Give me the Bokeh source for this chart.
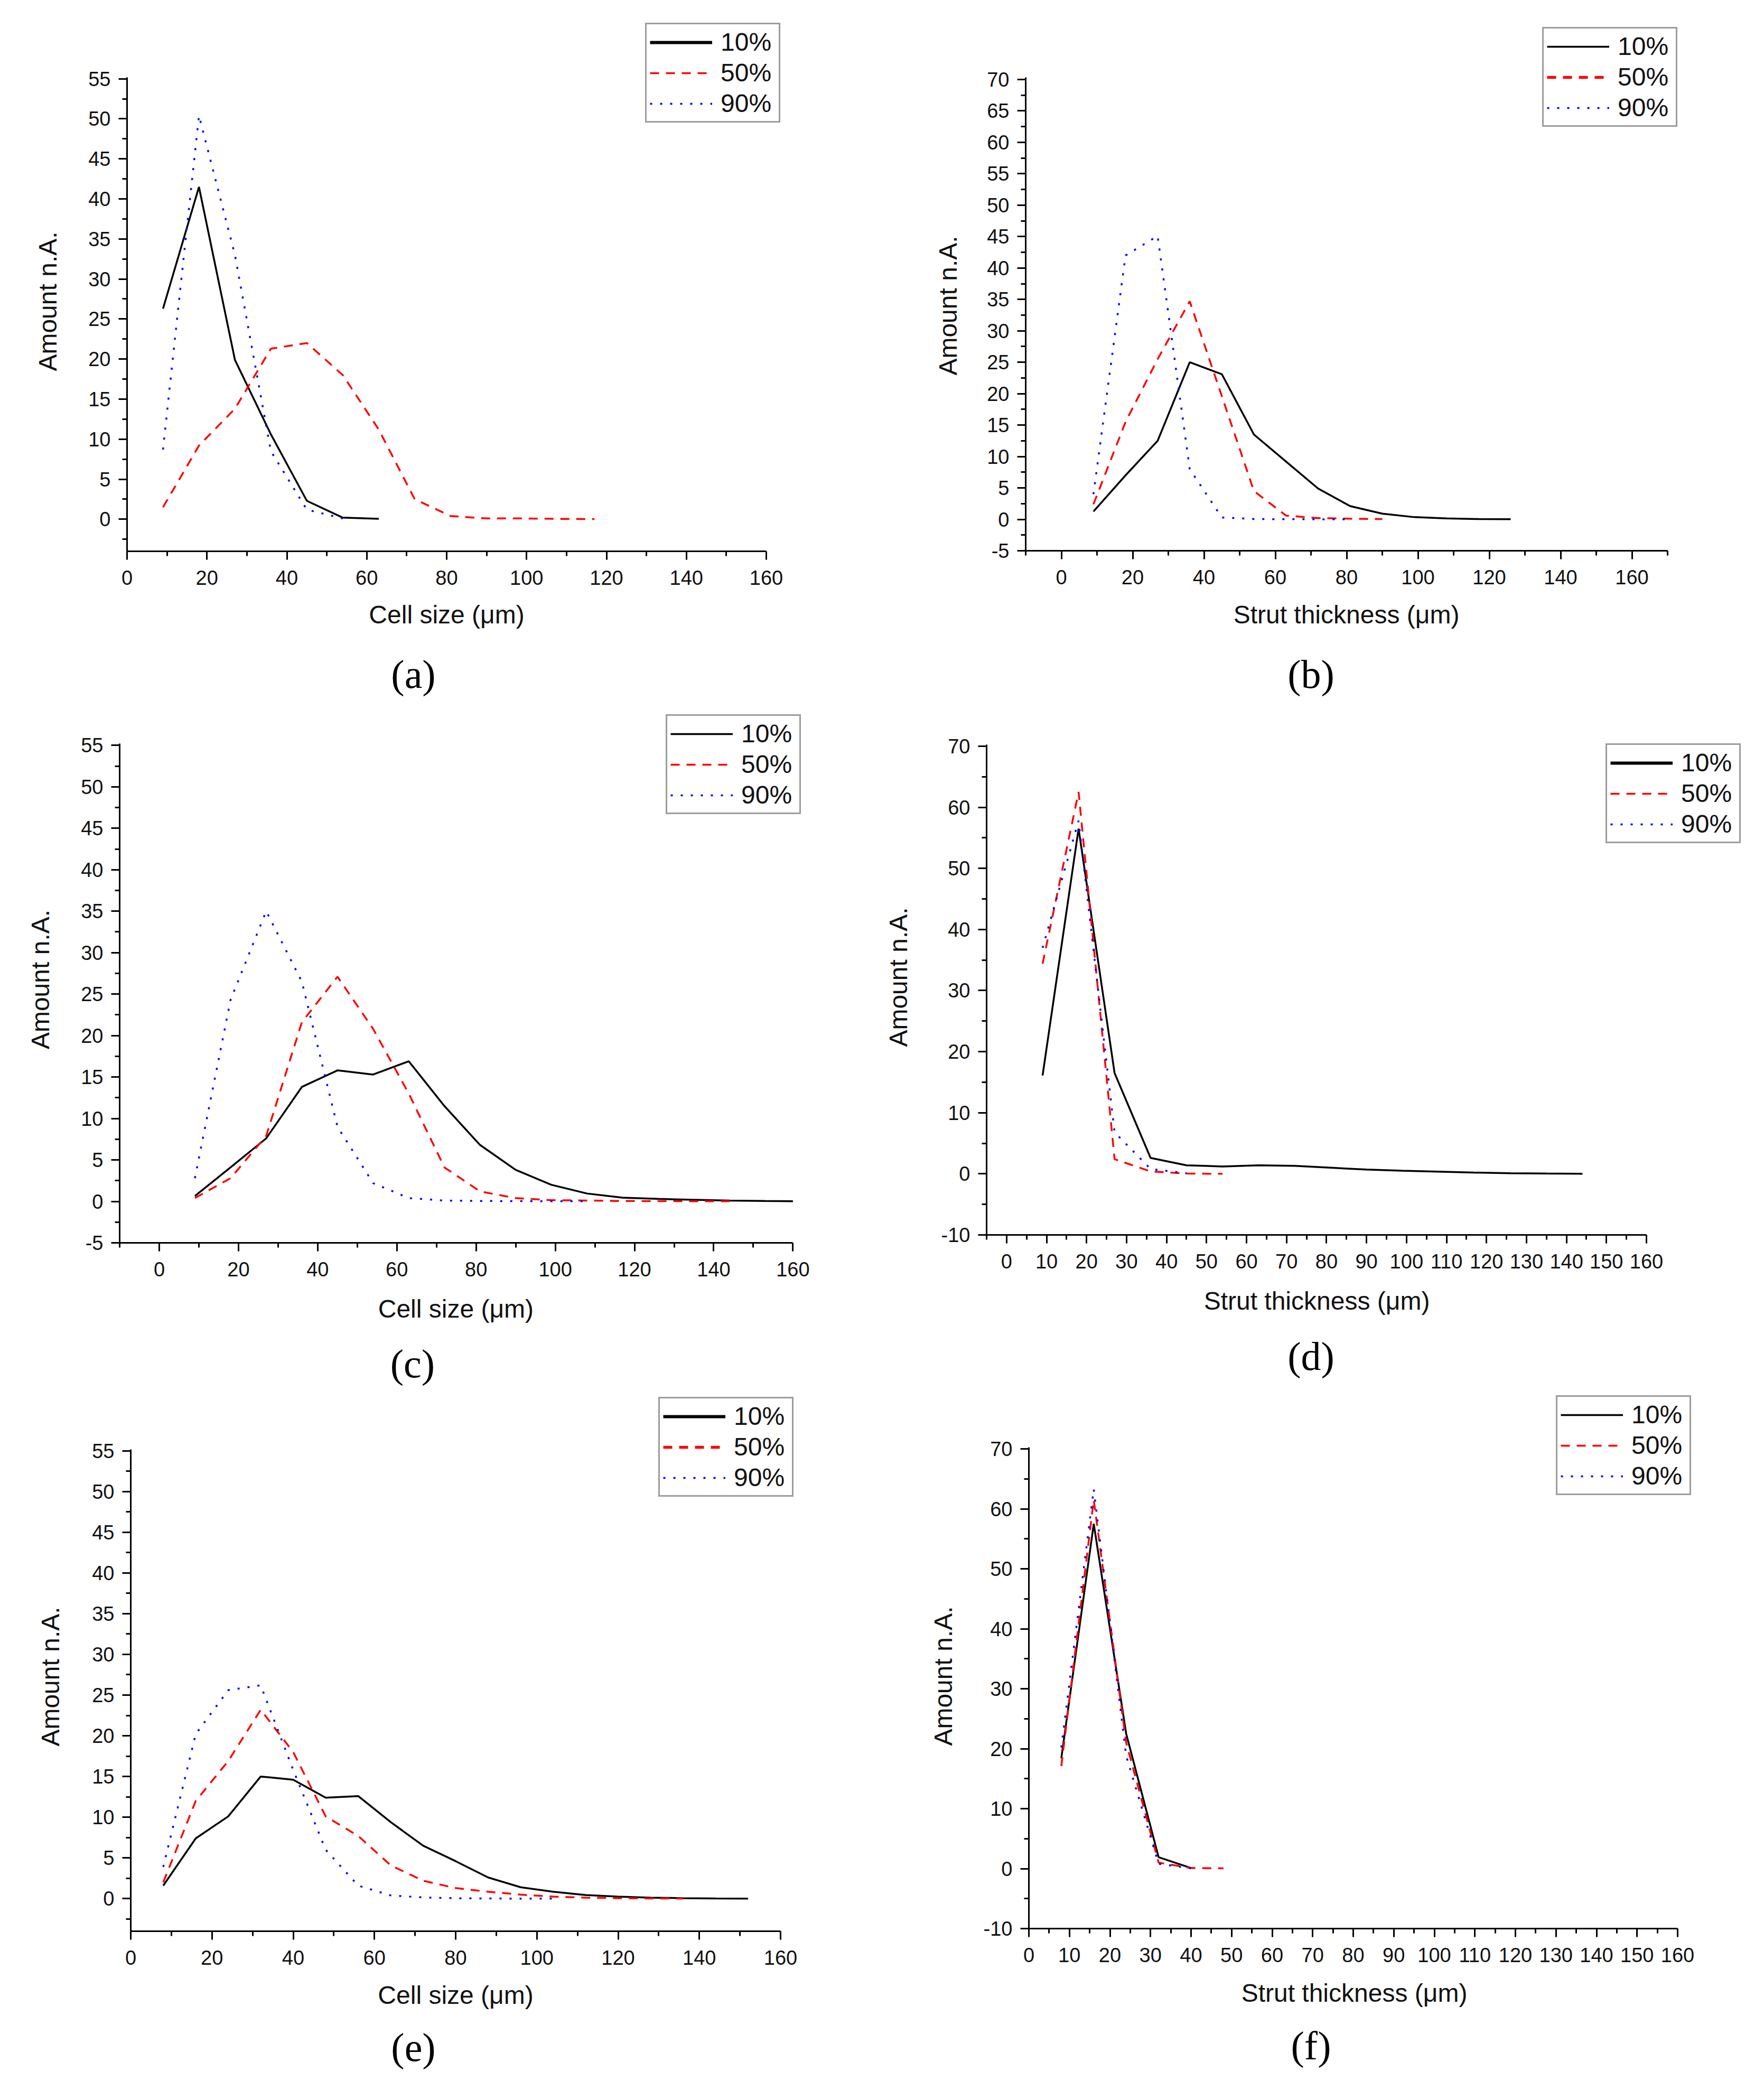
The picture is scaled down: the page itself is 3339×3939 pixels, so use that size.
from bokeh.plotting import figure
from bokeh.models import FixedTicker, Legend, LegendItem, Range1d, Title
from bokeh.layouts import column, row
from bokeh.embed import file_html
from bokeh.resources import INLINE

# ---------------- data ----------------
series_labels = ["10%", "50%", "90%"]
cell_label = "Cell size (μm)"
strut_label = "Strut thickness (μm)"
y_label = "Amount n.A."
captions = ["(a)", "(b)", "(c)", "(d)", "(e)", "(f)"]

# (a) cell size
a_x10 = [9, 18, 27, 36, 45, 54, 63]
a_y10 = [26.3, 41.5, 19.9, 10.6, 2.3, 0.2, 0.05]
a_x50 = [9, 18, 27, 36, 45, 54, 63, 72, 81, 90, 99, 108, 117]
a_y50 = [1.5, 9.2, 13.8, 21.3, 22.0, 18.0, 11.2, 2.5, 0.4, 0.1, 0.1, 0.05, 0.02]
a_x90 = [9, 18, 27, 36, 45, 54]
a_y90 = [8.7, 50.4, 33.0, 8.5, 1.2, 0.1]

# (b) strut thickness
b_x10 = [9, 18, 27, 36, 45, 54, 63, 72, 81, 90, 99, 108, 117, 126]
b_y10 = [1.25, 7.0, 12.5, 25.0, 23.1, 13.5, 9.2, 4.9, 2.1, 0.9, 0.35, 0.15, 0.05, 0.02]
b_x50 = [9, 18, 27, 36, 45, 54, 63, 72, 81, 90]
b_y50 = [2.4, 15.5, 25.5, 34.7, 19.6, 4.5, 0.6, 0.2, 0.1, 0.05]
b_x90 = [9, 18, 27, 36, 45, 54, 63, 72, 81]
b_y90 = [4.0, 42.0, 45.1, 8.0, 0.3, 0.05, 0.02, 0.01, 0.0]

# (c) cell size
c_x10 = [9, 18, 27, 36, 45, 54, 63, 72, 81, 90, 99, 108, 117, 126, 135, 144, 153, 160]
c_y10 = [0.65, 4.1, 7.6, 13.8, 15.8, 15.3, 16.9, 11.5, 6.8, 3.8, 2.0, 0.95, 0.45, 0.3, 0.2, 0.1, 0.05, 0.02]
c_x50 = [9, 18, 27, 36, 45, 54, 63, 72, 81, 90, 99, 108, 117, 126, 135, 144]
c_y50 = [0.4, 2.8, 7.9, 21.6, 27.1, 20.8, 13.0, 4.1, 1.2, 0.4, 0.15, 0.1, 0.05, 0.03, 0.02, 0.01]
c_x90 = [9, 18, 27, 36, 45, 54, 63, 72, 81, 90, 99, 108]
c_y90 = [2.8, 24.3, 35.0, 26.5, 9.0, 2.2, 0.4, 0.1, 0.05, 0.03, 0.02, 0.01]

# (d) strut thickness
d_x10 = [9, 18, 27, 36, 45, 54, 63, 72, 81, 90, 99, 108, 117, 126, 135, 144]
d_y10 = [16.1, 56.5, 16.5, 2.6, 1.4, 1.2, 1.4, 1.3, 1.0, 0.7, 0.5, 0.35, 0.2, 0.1, 0.05, 0.02]
d_x50 = [9, 18, 27, 36, 45, 54]
d_y50 = [34.4, 62.5, 2.4, 0.4, 0.05, 0.0]
d_x90 = [9, 18, 27, 36, 45]
d_y90 = [37.0, 57.8, 6.8, 0.8, 0.1]

# (e) cell size
e_x10 = [8, 16, 24, 32, 40, 48, 56, 64, 72, 80, 88, 96, 104, 112, 120, 128, 136, 144, 152]
e_y10 = [1.6, 7.4, 10.1, 15.0, 14.6, 12.4, 12.6, 9.4, 6.5, 4.6, 2.6, 1.4, 0.85, 0.45, 0.25, 0.12, 0.06, 0.03, 0.01]
e_x50 = [8, 16, 24, 32, 40, 48, 56, 64, 72, 80, 88, 96, 104, 112, 120, 128, 136]
e_y50 = [2.0, 12.0, 16.9, 23.2, 18.0, 10.1, 7.7, 4.1, 2.2, 1.3, 0.85, 0.5, 0.25, 0.12, 0.06, 0.03, 0.01]
e_x90 = [8, 16, 24, 32, 40, 48, 56, 64, 72, 80, 88, 96, 104]
e_y90 = [3.9, 20.2, 25.6, 26.2, 15.8, 6.0, 1.6, 0.4, 0.15, 0.05, 0.02, 0.01, 0.0]

# (f) strut thickness
f_x10 = [8, 16, 24, 32, 40]
f_y10 = [18.4, 57.5, 22.5, 1.9, 0.1]
f_x50 = [8, 16, 24, 32, 40, 48]
f_y50 = [17.1, 61.5, 21.0, 1.0, 0.1, 0.05]
f_x90 = [8, 16, 24, 32, 40]
f_y90 = [20.2, 63.3, 18.8, 0.8, 0.05]

# tick values
x20 = [0, 20, 40, 60, 80, 100, 120, 140, 160]
x20_minor = [10, 30, 50, 70, 90, 110, 130, 150]
x20_minor_b = [-10, 10, 30, 50, 70, 90, 110, 130, 150, 170]
x20_minor_c = [-10, 10, 30, 50, 70, 90, 110, 130, 150]
x10 = [0, 10, 20, 30, 40, 50, 60, 70, 80, 90, 100, 110, 120, 130, 140, 150, 160]
x10_minor_d = [-5, 5, 15, 25, 35, 45, 55, 65, 75, 85, 95, 105, 115, 125, 135, 145, 155]
x10_minor_f = [5, 15, 25, 35, 45, 55, 65, 75, 85, 95, 105, 115, 125, 135, 145, 155]
y5_55 = [0, 5, 10, 15, 20, 25, 30, 35, 40, 45, 50, 55]
y5_55m = [-5, 0, 5, 10, 15, 20, 25, 30, 35, 40, 45, 50, 55]
y5_minor = [-2.5, 2.5, 7.5, 12.5, 17.5, 22.5, 27.5, 32.5, 37.5, 42.5, 47.5, 52.5]
y5_70 = [-5, 0, 5, 10, 15, 20, 25, 30, 35, 40, 45, 50, 55, 60, 65, 70]
y5_minor70 = [-2.5, 2.5, 7.5, 12.5, 17.5, 22.5, 27.5, 32.5, 37.5, 42.5, 47.5,
              52.5, 57.5, 62.5, 67.5]
y10_70 = [-10, 0, 10, 20, 30, 40, 50, 60, 70]
y10_minor = [-5, 5, 15, 25, 35, 45, 55, 65]

# legend sample line widths per panel (10%, 50%, 90%)
legend_widths = {
    "a": (6, 3.5, 3.5), "b": (3.5, 5.5, 3.5), "c": (3.5, 3.5, 3.5),
    "d": (6, 3.5, 3.5), "e": (6, 5.5, 3.5), "f": (3.5, 3.5, 3.5),
}

# ---------------- styling / layout ----------------
FONT = "Liberation Sans"
CAP_FONT = "Liberation Serif"
TICK_PX, LAB_PX, CAP_PX = 38, 48, 76
H_TICK, H_LAB, H_CAP = 1.117 * TICK_PX, 1.117 * LAB_PX, 1.107 * CAP_PX
H_TICK_EFF = H_TICK - 13          # empirical axis-panel calibration
TICK_OUT, Y_STANDOFF, X_STANDOFF = 16, 15, 20
TXT = "#111111"
STYLES = [
    dict(line_color="black", line_width=3.5),
    dict(line_color="#ff0000", line_width=3.5, line_dash="17 13"),
    dict(line_color="#0000ff", line_width=3.5, line_dash="4 15"),
]
SANS_W = {'C': .722, 'e': .556, 'l': .222, ' ': .278, 's': .5, 'i': .222, 'z': .5,
          '(': .333, ')': .333, 'μ': .576, 'm': .833, 'S': .667, 't': .278,
          'r': .333, 'u': .556, 'h': .556, 'c': .5, 'k': .5, 'n': .556,
          'A': .667, 'o': .556, '.': .278, '-': .333}
SERIF_W = {'(': .333, ')': .333, 'a': .444, 'b': .5, 'c': .444, 'd': .5,
           'e': .444, 'f': .333}
NEG = {-5: "-5", -10: "-10"}
NAN = float("nan")


def em(text, table):
    return sum(table.get(ch, 0.556) for ch in text)


def make_panel(spec, xt, xm, yt, ym, data, xlabel, caption, lwidths):
    fx, fy, fw, fh = spec["fig"]
    x0, x1, y0, y1 = spec["ax"]
    xa, xb, ya, yb = spec["rng"]
    lx0, lx1, ly0 = spec["leg"]
    left = round(x0 - fx)
    right = round(fx + fw - lx1)
    top = round(ly0 - fy)
    bottom = round(fy + fh - y0)
    frame_w = fw - left - right
    frame_h = fh - top - bottom
    ppx = (x1 - x0) / (xb - xa)
    ppy = (y0 - y1) / (yb - ya)
    p = figure(width=fw, height=fh, title=None,
               min_border_left=left, min_border_right=right,
               min_border_top=top, min_border_bottom=bottom,
               x_range=Range1d(xa, xa + frame_w / ppx),
               y_range=Range1d(ya, ya + frame_h / ppy),
               output_backend="svg", toolbar_location=None, tools="")
    p.xgrid.visible = False
    p.ygrid.visible = False
    p.outline_line_color = None
    p.background_fill_color = "white"
    p.border_fill_color = "white"

    p.xaxis.ticker = FixedTicker(ticks=xt, minor_ticks=xm)
    p.yaxis.ticker = FixedTicker(ticks=yt, minor_ticks=ym)
    p.xaxis.bounds = (xa, xb)
    p.yaxis.bounds = (ya, yb)
    for ax in (p.xaxis[0], p.yaxis[0]):
        ax.axis_line_width = 3
        ax.axis_line_color = "black"
        ax.major_tick_line_width = 3
        ax.minor_tick_line_width = 3
        ax.major_tick_line_color = "black"
        ax.minor_tick_line_color = "black"
        ax.major_tick_out = TICK_OUT
        ax.major_tick_in = 0
        ax.minor_tick_out = 9
        ax.minor_tick_in = 0
        ax.major_label_text_font = FONT
        ax.major_label_text_font_size = f"{TICK_PX}px"
        ax.major_label_text_color = TXT
        ax.major_label_overrides = NEG
    p.xaxis.major_label_standoff = X_STANDOFF
    p.yaxis.major_label_standoff = Y_STANDOFF

    # x axis label, placed below the axis like the reference
    xl_cx, xl_base = spec["xl"]
    A = y0 + TICK_OUT + X_STANDOFF + H_TICK_EFF
    s1 = max(0.0, 2 * ((xl_base - 0.905 * LAB_PX) - A))
    wx = em(xlabel, SANS_W) * LAB_PX
    p.add_layout(Title(text=xlabel, align="left", vertical_align="top",
                       offset=xl_cx - wx / 2 - x0, standoff=s1,
                       text_font=FONT, text_font_size=f"{LAB_PX}px",
                       text_font_style="normal", text_color=TXT), "below")

    # caption
    cx, cy = spec["cap"]
    P = A + 2 + H_LAB + s1
    s2 = 2 * ((cy - H_CAP / 2) - P)
    s2 = max(0.0, min(s2, fy + fh - 4 - P - 2 - H_CAP))
    wc = em(caption, SERIF_W) * CAP_PX
    p.add_layout(Title(text=caption, align="left", vertical_align="top",
                       offset=cx - wc / 2 - x0, standoff=s2,
                       text_font=CAP_FONT, text_font_size=f"{CAP_PX}px",
                       text_font_style="normal", text_color="black"), "below")

    # y axis label
    ylabels = [NEG.get(v, str(v)) for v in yt]
    maxw = max(em(s, SANS_W) for s in ylabels) * TICK_PX
    R = x0 - TICK_OUT - Y_STANDOFF - maxw
    yl_cx, yl_cy = spec["yl"]
    s3 = max(0.0, 2 * (R - (yl_cx + H_LAB / 2)))
    s3 = min(s3, left - 3 - (x0 - R) - 2 - H_LAB)
    wy = em(y_label, SANS_W) * LAB_PX
    p.add_layout(Title(text=y_label, align="left", vertical_align="bottom",
                       offset=y0 - (yl_cy + wy / 2), standoff=max(0.0, s3),
                       text_font=FONT, text_font_size=f"{LAB_PX}px",
                       text_font_style="normal", text_color=TXT), "left")

    items = []
    for (xs, ys), lab, st, lw in zip(data, series_labels, STYLES, lwidths):
        r = p.line(xs, ys, **st)
        if lw != st["line_width"]:
            # legend-only sample (a single NaN point draws nothing in the plot)
            r = p.line(x=[NAN], y=[NAN], **dict(st, line_width=lw))
        items.append(LegendItem(label=lab, renderers=[r]))

    leg = Legend(items=items, location="top_right")
    leg.label_text_font = FONT
    leg.label_text_font_size = "48px"
    leg.label_text_color = TXT
    leg.glyph_width = 118
    leg.glyph_height = 30
    leg.label_standoff = 16
    leg.label_width = 104
    leg.padding = 6
    leg.spacing = 3
    leg.margin = 0
    leg.border_line_color = "#3a3a3a"
    leg.border_line_width = 3
    leg.background_fill_color = "white"
    leg.background_fill_alpha = 1.0
    p.add_layout(leg)
    return p


SPECS = [
    dict(fig=(0, 0, 1650, 1346), ax=(240, 1450, 1043, 145.6), rng=(0, 160, -4, 55.2),
         leg=(1225, 1477, 43), xl=(845, 1179), yl=(92, 570), cap=(782, 1276)),
    dict(fig=(1650, 0, 1680, 1346), ax=(1941, 3156, 1042, 146.4), rng=(-10, 170, -5, 70.3),
         leg=(2923, 3175, 51), xl=(2548, 1179), yl=(1796, 578), cap=(2481, 1276)),
    dict(fig=(0, 1346, 1620, 1294), ax=(225.6, 1500, 2351.5, 1406.7), rng=(-10, 160, -5, 55.2),
         leg=(1250, 1516, 1352), xl=(862, 2493), yl=(71, 1853), cap=(780, 2572)),
    dict(fig=(1620, 1346, 1710, 1294), ax=(1867, 3116, 2337, 1408.5), rng=(-5, 160, -10, 70.3),
         leg=(3040, 3295, 1407), xl=(2492, 2478), yl=(1702, 1849), cap=(2481, 2567)),
    dict(fig=(0, 2640, 1650, 1292), ax=(247, 1477, 3655, 2742.5), rng=(0, 160, -4, 55.2),
         leg=(1247, 1502, 2643.5), xl=(862, 3792), yl=(97, 3173), cap=(782, 3868)),
    dict(fig=(1650, 2640, 1680, 1292), ax=(1947, 3175, 3650, 2738.6), rng=(0, 160, -10, 70.3),
         leg=(2944, 3201, 2641), xl=(2563, 3788), yl=(1788, 3172), cap=(2481, 3868)),
]

pa = make_panel(SPECS[0], x20, x20_minor, y5_55, y5_minor,
                [(a_x10, a_y10), (a_x50, a_y50), (a_x90, a_y90)], cell_label,
                captions[0], legend_widths["a"])
pb = make_panel(SPECS[1], x20, x20_minor_b, y5_70, y5_minor70,
                [(b_x10, b_y10), (b_x50, b_y50), (b_x90, b_y90)], strut_label,
                captions[1], legend_widths["b"])
pc = make_panel(SPECS[2], x20, x20_minor_c, y5_55m, y5_minor,
                [(c_x10, c_y10), (c_x50, c_y50), (c_x90, c_y90)], cell_label,
                captions[2], legend_widths["c"])
pd_ = make_panel(SPECS[3], x10, x10_minor_d, y10_70, y10_minor,
                 [(d_x10, d_y10), (d_x50, d_y50), (d_x90, d_y90)], strut_label,
                 captions[3], legend_widths["d"])
pe = make_panel(SPECS[4], x20, x20_minor, y5_55, y5_minor,
                [(e_x10, e_y10), (e_x50, e_y50), (e_x90, e_y90)], cell_label,
                captions[4], legend_widths["e"])
pf = make_panel(SPECS[5], x10, x10_minor_f, y10_70, y10_minor,
                [(f_x10, f_y10), (f_x50, f_y50), (f_x90, f_y90)], strut_label,
                captions[5], legend_widths["f"])

# each plot wrapped in its own column so that frames are not force-aligned
layout = column(row(column(pa), column(pb)),
                row(column(pc), column(pd_)),
                row(column(pe), column(pf)))
open("out.html", "w").write(file_html(layout, INLINE))
